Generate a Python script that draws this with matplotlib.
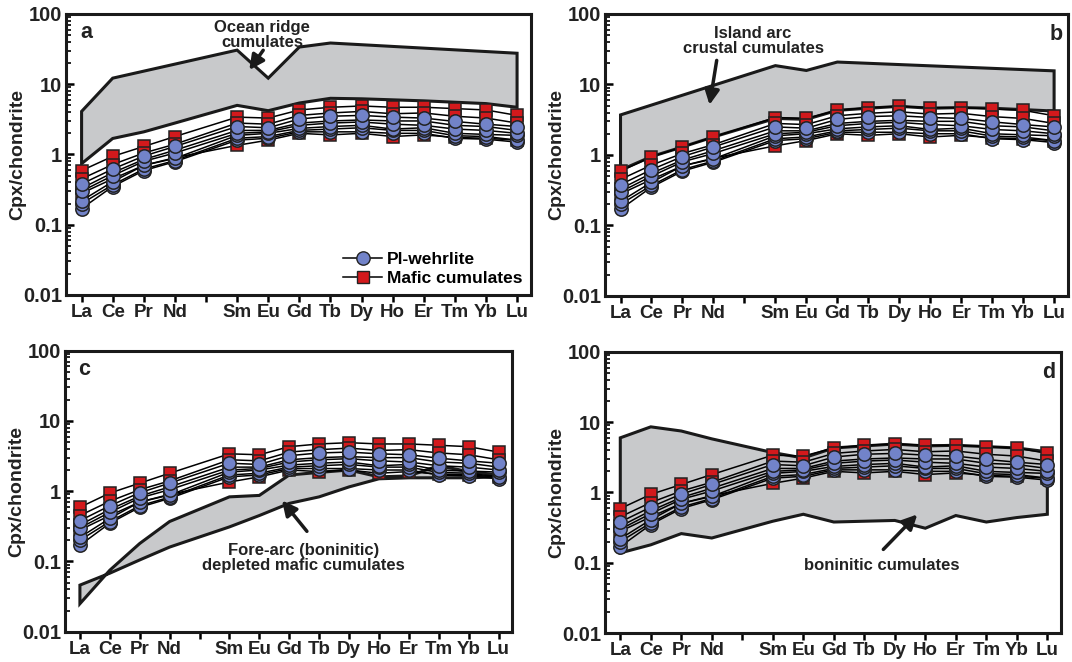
import matplotlib

matplotlib.use("Agg")
import matplotlib.pyplot as plt
from matplotlib.patches import Polygon
from matplotlib.ticker import LogLocator, NullFormatter

plt.rcParams["font.family"] = ["Liberation Sans", "DejaVu Sans"]
plt.rcParams["font.weight"] = "bold"

# REE order, Pm is a blank slot on the axis
elements = ["La", "Ce", "Pr", "Nd", "", "Sm", "Eu", "Gd", "Tb", "Dy", "Ho", "Er", "Tm", "Yb", "Lu"]
ree_idx = [0, 1, 2, 3, 5, 6, 7, 8, 9, 10, 11, 12, 13, 14]

# chondrite-normalised cpx (no Pm)
pl_wehrlite = [
    [0.38, 0.62, 0.95, 1.30, 2.50, 2.40, 3.20, 3.50, 3.60, 3.40, 3.30, 2.95, 2.70, 2.50],
    [0.30, 0.50, 0.80, 1.05, 2.00, 2.10, 2.60, 2.80, 2.90, 2.70, 2.60, 2.30, 2.20, 2.00],
    [0.22, 0.41, 0.70, 0.88, 1.87, 2.00, 2.35, 2.50, 2.60, 2.30, 2.40, 2.00, 1.93, 1.87],
    [0.20, 0.37, 0.62, 0.82, 1.70, 1.80, 2.20, 2.30, 2.40, 2.20, 2.20, 1.85, 1.80, 1.60],
    [0.17, 0.35, 0.59, 0.79, 1.60, 1.70, 2.10, 2.10, 2.10, 2.00, 2.00, 1.70, 1.65, 1.50],
]
mafic_cumulates = [
    [0.59, 0.94, 1.30, 1.80, 3.40, 3.30, 4.30, 4.70, 4.90, 4.70, 4.70, 4.50, 4.30, 3.60],
    [0.45, 0.72, 1.05, 1.40, 2.80, 2.70, 3.60, 3.90, 4.10, 3.80, 3.90, 3.50, 3.30, 2.80],
    [0.33, 0.55, 0.85, 1.15, 2.20, 2.20, 2.80, 3.00, 3.10, 3.00, 3.00, 2.60, 2.50, 2.20],
    [0.28, 0.45, 0.70, 0.90, 1.35, 1.60, 2.00, 1.90, 2.00, 1.80, 1.90, 1.75, 1.70, 1.60],
]

# comparison fields (x index, value)
ocean_ridge = [(0, 4.1), (1, 12.2), (5, 30.6), (6, 12.2), (7, 33.8), (8, 38.6), (14, 27.6),
               (14, 4.7), (13, 5.3), (11, 5.8), (9, 6.2), (8, 6.3), (7, 5.4), (6, 4.2), (5, 5.0),
               (3, 2.8), (2, 2.1), (1, 1.69), (0, 0.74)]
island_arc = [(0, 3.7), (5, 18.5), (6, 15.8), (7, 20.8), (14, 15.6),
              (14, 4.2), (13, 4.4), (12, 4.6), (11, 4.7), (10, 4.6), (9, 4.9), (8, 4.6),
              (7, 4.3), (6, 3.2), (5, 3.3), (3, 1.8), (2, 1.3), (1, 0.95), (0, 0.61)]
fore_arc = [(0, 0.046), (1, 0.068), (2, 0.105), (3, 0.16), (5, 0.31), (6, 0.45), (7, 0.67),
            (8, 0.83), (9, 1.15), (10, 1.5), (11, 1.55), (12, 1.55), (13, 1.55), (14, 1.6),
            (14, 1.7), (13, 1.9), (12, 2.3), (11, 1.65), (10, 1.6), (9, 2.0), (8, 1.85),
            (7, 1.7), (6, 0.87), (5, 0.83), (3, 0.37), (2, 0.18), (1, 0.075), (0, 0.025)]
boninitic = [(0, 6.0), (1, 8.6), (2, 7.5), (3, 5.8), (5, 3.7), (6, 3.1), (7, 4.3), (8, 4.6),
             (9, 4.9), (10, 4.6), (11, 4.7), (12, 4.5), (13, 4.3), (14, 3.8),
             (14, 0.49), (13, 0.44), (12, 0.38), (11, 0.47), (10, 0.31), (9, 0.40), (8, 0.39),
             (7, 0.38), (6, 0.49), (5, 0.39), (3, 0.225), (2, 0.26), (1, 0.18), (0, 0.138)]

panels = [
    dict(letter="a", field=ocean_ridge, label="Ocean ridge\ncumulates", text_xy=(5.8, 50),
         head=(5.34, 14.8), tail=(5.89, 32.8), corner="left",
         rect=[0.0616, 0.5544, 0.4338, 0.4245]),
    dict(letter="b", field=island_arc, label="Island arc\ncrustal cumulates", text_xy=(4.28, 42),
         head=(2.86, 4.7), tail=(3.12, 24), corner="right",
         rect=[0.5644, 0.5529, 0.4319, 0.4260]),
    dict(letter="c", field=fore_arc, label="Fore-arc (boninitic)\ndepleted mafic cumulates",
         text_xy=(7.47, 0.113), head=(6.7, 0.79), tail=(7.65, 0.25), corner="left",
         rect=[0.0606, 0.0458, 0.4170, 0.4245]),
    dict(letter="d", field=boninitic, label="boninitic cumulates", text_xy=(8.56, 0.092),
         head=(9.8, 0.52), tail=(8.56, 0.145), corner="right",
         rect=[0.5644, 0.0438, 0.4254, 0.4245]),
]

blue = "#7283c9"
red = "#d3191c"
ink = "#222222"

fig = plt.figure(figsize=(10.72, 6.62), dpi=100)

for p in panels:
    ax = fig.add_axes(p["rect"])
    ax.set_yscale("log")
    ax.set_ylim(0.01, 100)
    ax.set_xlim(-0.5, 14.45)

    ax.add_patch(Polygon(p["field"], closed=True, facecolor="#c8c9cb", edgecolor="#1a1a1a",
                         lw=2.2, zorder=1))

    # draw the two groups interleaved so colours mix like the original
    for i in range(max(len(pl_wehrlite), len(mafic_cumulates))):
        if i < len(mafic_cumulates):
            ax.plot(ree_idx, mafic_cumulates[i], color="k", lw=1.1, marker="s", ms=8.8,
                    mfc=red, mec=ink, mew=1.1, zorder=3 + i)
        if i < len(pl_wehrlite):
            ax.plot(ree_idx, pl_wehrlite[i], color="k", lw=1.1, marker="o", ms=9.6,
                    mfc=blue, mec=ink, mew=1.1, zorder=10 - i)

    ax.annotate("", xy=p["head"], xytext=p["tail"],
                arrowprops=dict(arrowstyle="-|>", color="#1a1a1a", lw=2.5, mutation_scale=22),
                zorder=20)
    ax.text(*p["text_xy"], p["label"], ha="center", va="center", fontsize=12,
            fontweight="bold", color=ink, linespacing=1.0, zorder=21)

    if p["corner"] == "left":
        ax.text(0.03, 0.97, p["letter"], transform=ax.transAxes, ha="left", va="top",
                fontsize=15.5, fontweight="bold", color=ink)
    else:
        ax.text(0.988, 0.965, p["letter"], transform=ax.transAxes, ha="right", va="top",
                fontsize=15.5, fontweight="bold", color=ink)

    ax.set_xticks(range(len(elements)))
    ax.set_xticklabels(elements, fontsize=13.5, fontweight="bold", color=ink)
    ax.set_yticks([0.01, 0.1, 1, 10, 100])
    ax.set_yticklabels(["0.01", "0.1", "1", "10", "100"], fontsize=14.5, fontweight="bold",
                       color=ink)
    ax.yaxis.set_minor_locator(LogLocator(base=10, subs=range(2, 10), numticks=20))
    ax.yaxis.set_minor_formatter(NullFormatter())
    ax.tick_params(axis="x", direction="out", length=5, width=1.8, pad=1.5)
    ax.tick_params(axis="y", which="major", direction="in", length=6, width=1.8, pad=3)
    ax.tick_params(axis="y", which="minor", direction="in", length=3.5, width=1.2)
    ax.set_ylabel("Cpx/chondrite", fontsize=14, fontweight="bold", color=ink)
    # the label's right edge sits ~40 px left of the spine in the original
    ax_w_px = p["rect"][2] * 1072
    ax.yaxis.set_label_coords(-40 / ax_w_px, 0.5)
    for s in ax.spines.values():
        s.set_linewidth(2.2)
        s.set_color("#1a1a1a")

    if p["letter"] == "a":
        h1, = ax.plot([], [], color="k", lw=1.1, marker="o", ms=9.6, mfc=blue, mec=ink)
        h2, = ax.plot([], [], color="k", lw=1.1, marker="s", ms=8.8, mfc=red, mec=ink)
        ax.legend([h1, h2], ["Pl-wehrlite", "Mafic cumulates"], loc="lower right",
                  frameon=False, handlelength=2.2, handletextpad=0.3,
                  labelspacing=0.25, borderaxespad=0.1,
                  prop=dict(weight="bold", size=12.5))

fig.savefig("out.png", dpi=100)
